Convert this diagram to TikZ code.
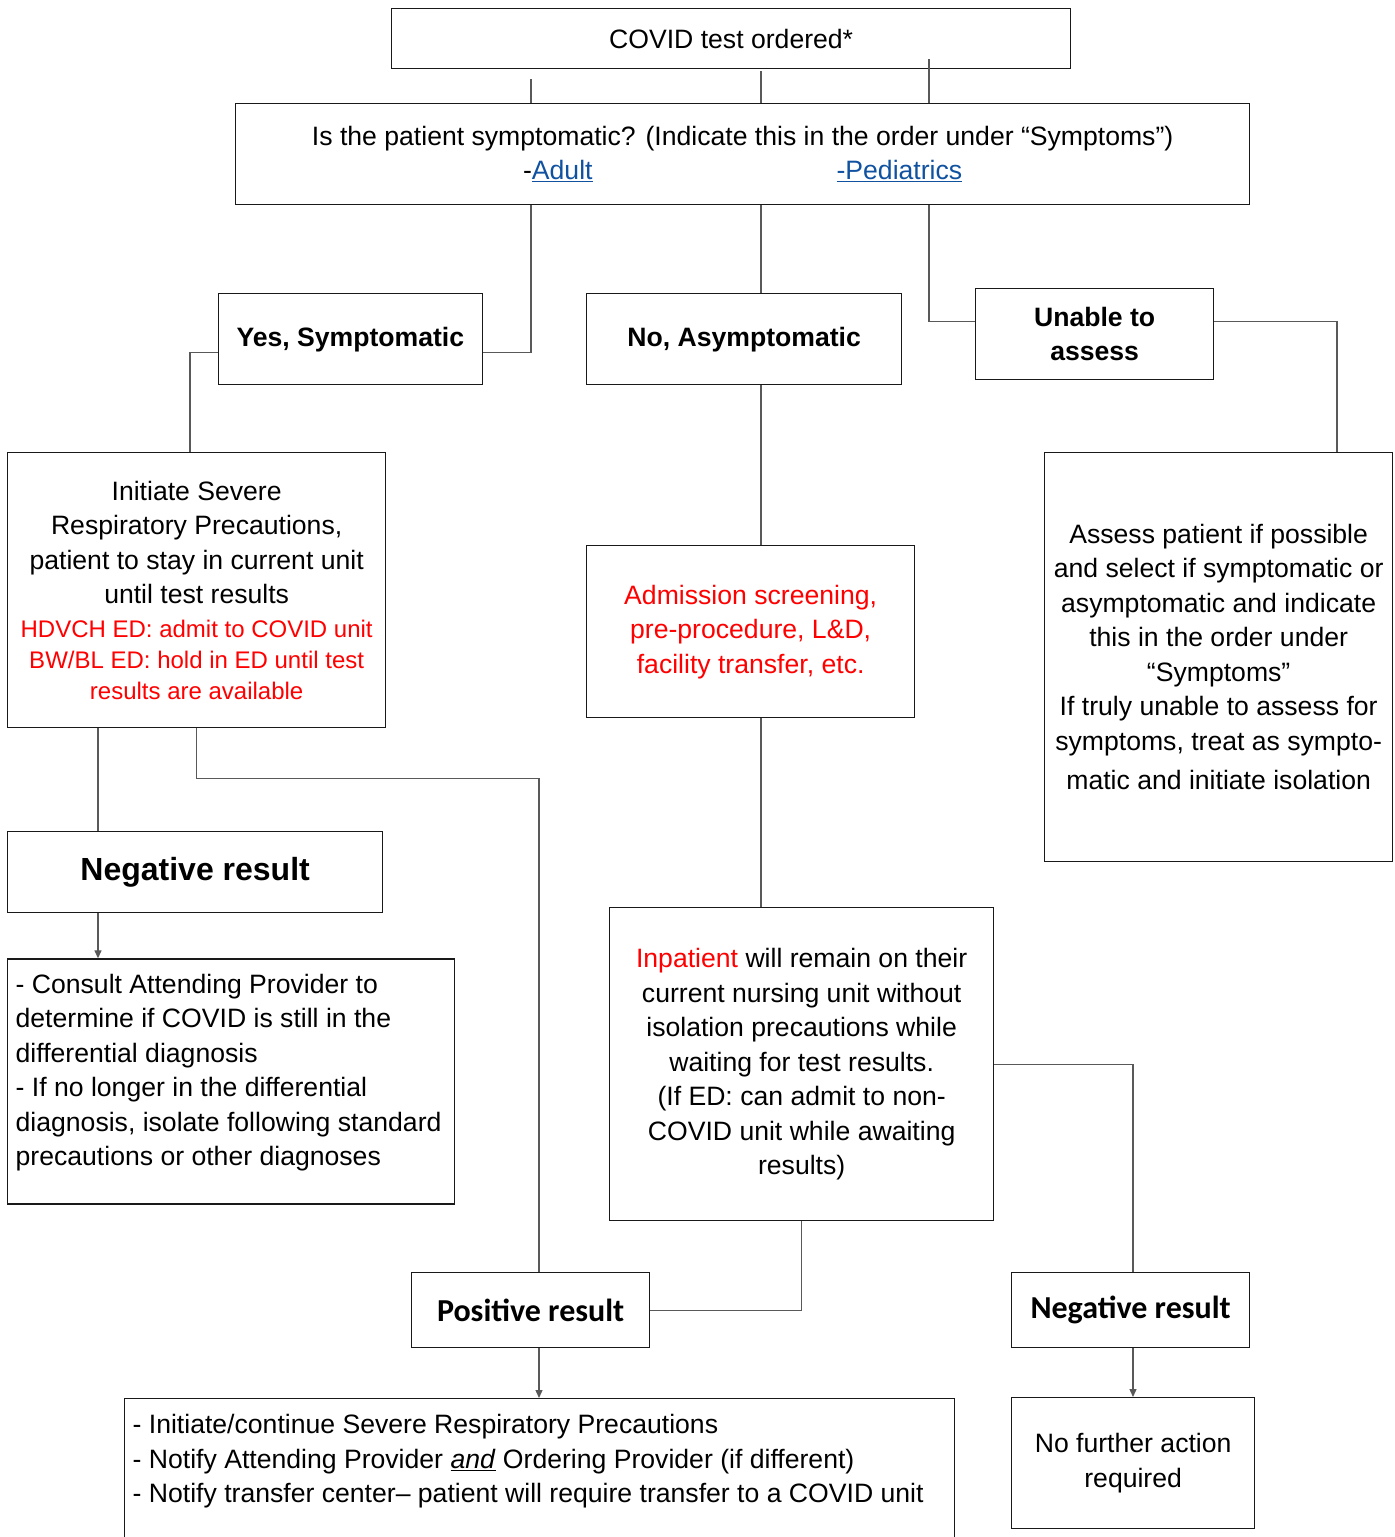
\documentclass[tikz,border=0pt]{standalone}
\usepackage{fontspec}
\setmainfont{Liberation Sans}
\newfontfamily\calibri{Carlito}
\usetikzlibrary{arrows.meta, positioning, calc}

\definecolor{alertred}{RGB}{255,0,0}
\definecolor{linkblue}{RGB}{16,82,160}
\newcommand{\bodyfont}{\fontsize{26.6}{34.5}\selectfont}
\newcommand{\redfont}{\fontsize{24}{31}\selectfont}
\newcommand{\headfont}{\fontsize{26.6}{34.5}\selectfont\bfseries}
\newcommand{\resultfont}{\fontsize{32}{36}\selectfont\calibri\bfseries}

\begin{document}
\begin{tikzpicture}[
      x=1pt, y=-1pt,
      every node/.style={font=\bodyfont},
      box/.style={draw=black!90, line width=1.3pt, inner sep=0pt, align=center, anchor=north west},
      link/.style={draw=black!65, line width=1.3pt},
      pointed/.style={-{Triangle[length=8pt,width=7pt]}}
    ]
    \useasboundingbox (0,0) rectangle (1395,1537);

    % columns the connectors run along
    \coordinate (colA) at (531,0);
    \coordinate (colB) at (761,0);
    \coordinate (colC) at (929,0);
    \coordinate (colY) at (190,0);
    \coordinate (colU) at (1337,0);
    \coordinate (colN) at (98,0);
    \coordinate (colP) at (539,0);
    \coordinate (colR) at (1133,0);

    \node[box, minimum width=679, minimum height=60] (covid) at (391,8) {COVID test ordered*};
    \node[box, minimum width=1014, minimum height=101] (question) at (235,103)
        {Is the patient symptomatic? (Indicate this in the order under “Symptoms”)\\
         -\textcolor{linkblue}{\underline{Adult}}\hspace{244pt}\textcolor{linkblue}{\underline{-Pediatrics}}};

    \node[box, minimum width=315, minimum height=91, font=\headfont] (no) at (586,293) {No, Asymptomatic};
    \node[box, minimum width=264, minimum height=91, font=\headfont, left=103pt of no.north west, anchor=north east] (yes) {Yes, Symptomatic};
    \node[box, minimum width=238, minimum height=91, font=\headfont] (unable) at (975,288) {Unable to\\assess};

    \node[box, minimum width=378, minimum height=275] (initiate) at (7,452)
        {Initiate Severe\\Respiratory Precautions,\\patient to stay in current unit\\until test results\\[-1pt]
         \textcolor{alertred}{\redfont HDVCH ED: admit to COVID unit}\\[-3.5pt]
         \textcolor{alertred}{\redfont BW/BL ED: hold in ED until test}\\[-3.5pt]
         \textcolor{alertred}{\redfont results are available}};
    \node[box, minimum width=348, minimum height=409] (assess) at (1044,452)
        {Assess patient if possible\\and select if symptomatic or\\asymptomatic and indicate\\this in the order under\\“Symptoms”\\
         If truly unable to assess for\\symptoms, treat as sympto-\\[5pt]matic and initiate isolation};
    \node[box, minimum width=328, minimum height=172, text=alertred] (admission) at (586,545)
        {Admission screening,\\pre-procedure, L\&D,\\facility transfer, etc.};

    \node[box, minimum width=375, minimum height=81, font=\fontsize{32}{36}\selectfont\bfseries] (negL) at (7,831) {Negative result};
    \node[box, inner xsep=8pt, inner ysep=15pt, below=45pt of negL.south west, anchor=north west] (consult)
        {\parbox[c][215pt][t]{431pt}{\raggedright
         - Consult Attending Provider to\\determine if COVID is still in the\\differential diagnosis\\
         - If no longer in the differential\\diagnosis, isolate following standard\\precautions or other diagnoses}};

    \node[box, minimum width=384, minimum height=313] (inpatient) at (609,907)
        {\textcolor{alertred}{Inpatient} will remain on their\\current nursing unit without\\isolation precautions while\\waiting for test results.\\
         (If ED: can admit to non-\\COVID unit while awaiting\\results)};

    \node[box, minimum width=238, minimum height=75, font=\resultfont] (positive) at (411,1272) {Positive result};
    \node[box, minimum width=238, minimum height=75, font=\resultfont] (negR) at (1011,1272) {Negative result};

    \node[box, inner xsep=8pt, inner ysep=16pt] (notify) at (124,1398)
        {\parbox[c][150pt][t]{814pt}{\raggedright
         - Initiate/continue Severe Respiratory Precautions\\
         - Notify Attending Provider \underline{\textit{and}} Ordering Provider (if different)\\
         - Notify transfer center– patient will require transfer to a COVID unit}};
    \node[box, minimum width=243, minimum height=131] (nofurther) at (1011,1397)
        {No further action\\required};

    % connectors
    \draw[link, shorten <=10pt] (covid.south -| colA) -- (question.north -| colA);
    \draw[link, shorten <=2pt] (covid.south -| colB) -- (question.north -| colB);
    \draw[link, shorten <=-10pt] (covid.south -| colC) -- (question.north -| colC);

    \draw[link] (question.south -| colA) |- ($(yes.east)+(0,13.5)$);
    \draw[link] (question.south -| colB) -- (no.north -| colB);
    \draw[link] (question.south -| colC) |- ($(unable.west)+(0,-13)$);

    \draw[link] ($(yes.west)+(0,13.5)$) -| (initiate.north -| colY);
    \draw[link] ($(unable.east)+(0,-13)$) -| (assess.north -| colU);
    \draw[link] (no.south -| colB) -- (admission.north -| colB);
    \draw[link] (admission.south -| colB) -- (inpatient.north -| colB);

    \draw[link] (initiate.south -| colN) -- (negL.north -| colN);
    \draw[link] (initiate.south) -- ++(0,50) -| (positive.north -| colP);
    \draw[link, pointed] (negL.south -| colN) -- (consult.north -| colN);

    \draw[link] (inpatient.south) |- (positive.east);
    \draw[link] (inpatient.east) -| (negR.north -| colR);
    \draw[link, pointed] (positive.south -| colP) -- (notify.north -| colP);
    \draw[link, pointed] (negR.south -| colR) -- (nofurther.north -| colR);
\end{tikzpicture}
\end{document}
